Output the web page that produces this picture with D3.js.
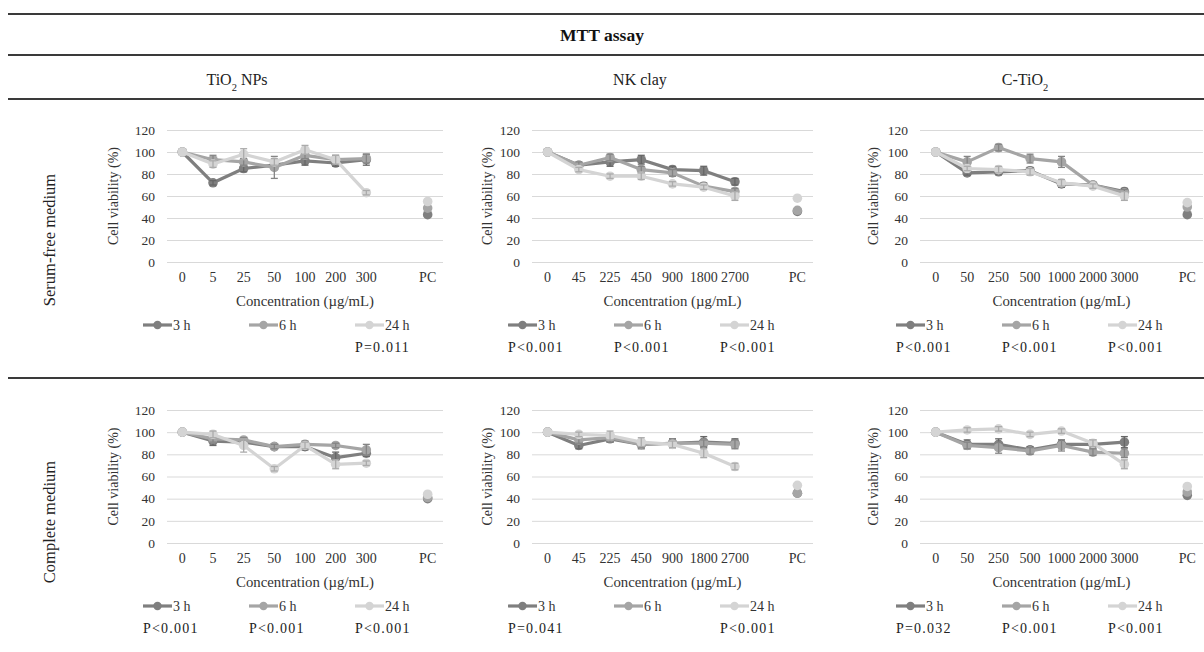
<!DOCTYPE html>
<html>
<head>
<meta charset="utf-8">
<script src="https://cdn.jsdelivr.net/npm/d3@7"></script>
<style>
body { margin: 0; background: #fff; }
svg { display: block; font-family: "Liberation Serif", "Times New Roman", serif; }
</style>
</head>
<body>
<svg></svg>
<script>
// категории концентраций
const concTiO2 = ["0", "5", "25", "50", "100", "200", "300"];
const concNK = ["0", "45", "225", "450", "900", "1800", "2700"];
const concCTiO2 = ["0", "50", "250", "500", "1000", "2000", "3000"];
const seriesNames = ["3 h", "6 h", "24 h"];
const seriesColors = ["#7f7f7f", "#a5a5a5", "#d4d4d4"];
const yTicks = [0, 20, 40, 60, 80, 100, 120];

// serum-free medium: средние [3h, 6h, 24h], SD, PC, p
const tio2SerumMean = [[100, 72, 85, 88, 92, 90, 93], [100, 93, 91, 86, 97, 93, 94], [100, 89, 98, 91, 102, 93, 63]];
const tio2SerumSd = [[0, 2, 3, 3, 4, 3, 5], [0, 4, 3, 10, 3, 4, 4], [0, 3, 5, 3, 4, 4, 2]];
const tio2SerumPC = [43, 49, 55];
const tio2SerumP = ["", "", "P=0.011"];

const nkSerumMean = [[100, 88, 91, 93, 84, 83, 73], [100, 88, 95, 84, 81, 69, 64], [100, 84, 78, 78, 71, 68, 60]];
const nkSerumSd = [[0, 2, 4, 4, 3, 4, 3], [0, 3, 3, 3, 3, 3, 3], [0, 2, 2, 3, 2, 2, 4]];
const nkSerumPC = [46, 47, 58];
const nkSerumP = ["P<0.001", "P<0.001", "P<0.001"];

const ctio2SerumMean = [[100, 81, 82, 83, 71, 70, 64], [100, 91, 104, 94, 91, 70, 63], [100, 85, 84, 82, 72, 69, 60]];
const ctio2SerumSd = [[0, 2, 2, 3, 3, 2, 3], [0, 5, 3, 4, 5, 2, 3], [0, 2, 3, 3, 3, 2, 4]];
const ctio2SerumPC = [43, 50, 54];
const ctio2SerumP = ["P<0.001", "P<0.001", "P<0.001"];

// complete medium
const tio2CompMean = [[100, 92, 91, 87, 87, 77, 81], [100, 94, 93, 87, 89, 88, 84], [100, 98, 88, 67, 88, 71, 72]];
const tio2CompSd = [[0, 4, 3, 2, 3, 5, 3], [0, 3, 2, 2, 3, 2, 5], [0, 3, 6, 2, 3, 4, 2]];
const tio2CompPC = [40, 41, 44];
const tio2CompP = ["P<0.001", "P<0.001", "P<0.001"];

const nkCompMean = [[100, 88, 94, 89, 90, 91, 90], [100, 93, 95, 89, 90, 90, 89], [100, 98, 97, 91, 89, 81, 69]];
const nkCompSd = [[0, 3, 3, 4, 4, 5, 4], [0, 3, 4, 3, 3, 3, 4], [0, 2, 4, 4, 3, 4, 3]];
const nkCompPC = [45, 45, 52];
const nkCompP = ["P=0.041", "", "P<0.001"];

const ctio2CompMean = [[100, 89, 89, 84, 89, 89, 91], [100, 88, 86, 83, 88, 82, 81], [100, 102, 103, 98, 101, 90, 71]];
const ctio2CompSd = [[0, 4, 5, 3, 4, 4, 5], [0, 3, 5, 3, 5, 3, 4], [0, 2, 2, 2, 2, 3, 4]];
const ctio2CompPC = [43, 46, 51];
const ctio2CompP = ["P=0.032", "P<0.001", "P<0.001"];

const width = 1204;
const height = 652;
const textGray = "#333";
let svg = d3.select("svg").attr("width", width).attr("height", height);

// раскладка таблицы
const cols = [
    { left: 167, right: 443, titleOff: 54, head: "TiO", sub: "2", tail: " NPs", headX: 237 },
    { left: 532, right: 813, titleOff: 45, head: "NK clay", sub: "", tail: "", headX: 640 },
    { left: 920, right: 1203, titleOff: 47, head: "C-TiO", sub: "2", tail: "", headX: 1025 }
];
const rows = [
    { top: 130, bottom: 262, label: "Serum-free medium", labelY: 240 },
    { top: 410, bottom: 543, label: "Complete medium", labelY: 522 }
];

const panels = [
    { row: 0, col: 0, conc: concTiO2, mean: tio2SerumMean, sd: tio2SerumSd, pc: tio2SerumPC, p: tio2SerumP },
    { row: 0, col: 1, conc: concNK, mean: nkSerumMean, sd: nkSerumSd, pc: nkSerumPC, p: nkSerumP },
    { row: 0, col: 2, conc: concCTiO2, mean: ctio2SerumMean, sd: ctio2SerumSd, pc: ctio2SerumPC, p: ctio2SerumP },
    { row: 1, col: 0, conc: concTiO2, mean: tio2CompMean, sd: tio2CompSd, pc: tio2CompPC, p: tio2CompP },
    { row: 1, col: 1, conc: concNK, mean: nkCompMean, sd: nkCompSd, pc: nkCompPC, p: nkCompP },
    { row: 1, col: 2, conc: concCTiO2, mean: ctio2CompMean, sd: ctio2CompSd, pc: ctio2CompPC, p: ctio2CompP }
];

// линии таблицы
[14, 55, 99, 378].forEach(yy => {
    svg.append("line").attr("x1", 8).attr("x2", width).attr("y1", yy).attr("y2", yy)
        .attr("stroke", "#3a3a3a").attr("stroke-width", 2);
});

svg.append("text").attr("x", 602).attr("y", 41).attr("text-anchor", "middle")
    .style("font-size", "17.5px").style("font-weight", "bold").attr("fill", "#111").text("MTT assay");

cols.forEach(c => {
    let t = svg.append("text").attr("x", c.headX).attr("y", 85).attr("text-anchor", "middle")
        .style("font-size", "16px").attr("fill", "#222");
    t.append("tspan").text(c.head);
    if (c.sub) t.append("tspan").attr("baseline-shift", "sub").style("font-size", "10.5px").text(c.sub);
    if (c.tail) t.append("tspan").text(c.tail);
});

rows.forEach(r => {
    svg.append("text").attr("transform", `translate(55,${r.labelY}) rotate(-90)`)
        .attr("text-anchor", "middle").style("font-size", "16.5px").attr("fill", "#222").text(r.label);
});

function drawPanel(p) {
    const col = cols[p.col];
    const row = rows[p.row];
    const g = svg.append("g");
    const cats = p.conc.concat([" ", "PC"]);
    const x = d3.scaleBand().domain(cats).range([col.left, col.right]);
    const cx = d => x(d) + x.bandwidth() / 2;
    const y = d3.scaleLinear().domain([0, 120]).range([row.bottom, row.top]);

    // сетка и подписи оси y
    const yAxis = g.append("g").attr("transform", `translate(${col.left},0)`)
        .call(d3.axisLeft(y).tickValues(yTicks).tickSize(-(col.right - col.left)).tickPadding(12));
    yAxis.attr("font-family", null).attr("font-size", null);
    yAxis.select(".domain").remove();
    yAxis.selectAll(".tick line").attr("stroke", "#d9d9d9");
    yAxis.selectAll("text").attr("fill", textGray).style("font-size", "13.5px");

    // подписи оси x
    const xAxis = g.append("g").attr("transform", `translate(0,${row.bottom})`)
        .call(d3.axisBottom(x).tickSize(0).tickPadding(10));
    xAxis.attr("font-family", null).attr("font-size", null);
    xAxis.select(".domain").remove();
    xAxis.selectAll("text").attr("fill", textGray).style("font-size", "14px");

    g.append("text").attr("transform", `translate(${col.left - col.titleOff},${(row.top + row.bottom) / 2}) rotate(-90)`)
        .attr("text-anchor", "middle").attr("dy", "0.35em").style("font-size", "14px").attr("fill", textGray)
        .text("Cell viability (%)");
    g.append("text").attr("x", (col.left + col.right) / 2).attr("y", row.bottom + 44)
        .attr("text-anchor", "middle").style("font-size", "14.8px").attr("fill", textGray)
        .text("Concentration (\u00b5g/mL)");

    const line = d3.line().x((d, i) => cx(p.conc[i])).y(d => y(d));

    p.mean.forEach((vals, s) => {
        const color = seriesColors[s];
        g.append("path").attr("d", line(vals)).attr("fill", "none").attr("stroke", color)
            .attr("stroke-width", 3.2).attr("stroke-linejoin", "round");
        g.selectAll(null).data(vals).join("circle")
            .attr("cx", (d, i) => cx(p.conc[i])).attr("cy", d => y(d)).attr("r", 4.8).attr("fill", color);
        // планки погрешностей
        const errColor = d3.color(color).darker(0.6).formatHex();
        const eb = g.append("g").attr("stroke", errColor).attr("stroke-width", 1.3);
        vals.forEach((m, i) => {
            const sd = p.sd[s][i];
            if (!sd) return;
            const xx = cx(p.conc[i]);
            eb.append("line").attr("x1", xx).attr("x2", xx).attr("y1", y(m - sd)).attr("y2", y(m + sd));
            eb.append("line").attr("x1", xx - 3.5).attr("x2", xx + 3.5).attr("y1", y(m - sd)).attr("y2", y(m - sd));
            eb.append("line").attr("x1", xx - 3.5).attr("x2", xx + 3.5).attr("y1", y(m + sd)).attr("y2", y(m + sd));
        });
    });

    // положительный контроль
    p.pc.forEach((v, s) => {
        g.append("circle").attr("cx", cx("PC")).attr("cy", y(v)).attr("r", 4.8).attr("fill", seriesColors[s]);
    });

    // легенда и p-значения
    seriesNames.forEach((name, s) => {
        const lx = col.left - 24 + s * 106;
        const ly = row.bottom + 63;
        g.append("line").attr("x1", lx).attr("x2", lx + 29).attr("y1", ly).attr("y2", ly)
            .attr("stroke", seriesColors[s]).attr("stroke-width", 3.2);
        g.append("circle").attr("cx", lx + 14.5).attr("cy", ly).attr("r", 4.2).attr("fill", seriesColors[s]);
        g.append("text").attr("x", lx + 30).attr("y", ly).attr("dy", "0.35em")
            .style("font-size", "14px").attr("fill", textGray).text(name);
        if (p.p[s]) {
            g.append("text").attr("x", lx).attr("y", row.bottom + 85).attr("dy", "0.35em")
                .style("font-size", "14px").style("letter-spacing", "1.2px").attr("fill", "#222").text(p.p[s]);
        }
    });
}

panels.forEach(drawPanel);
</script>
</body>
</html>
